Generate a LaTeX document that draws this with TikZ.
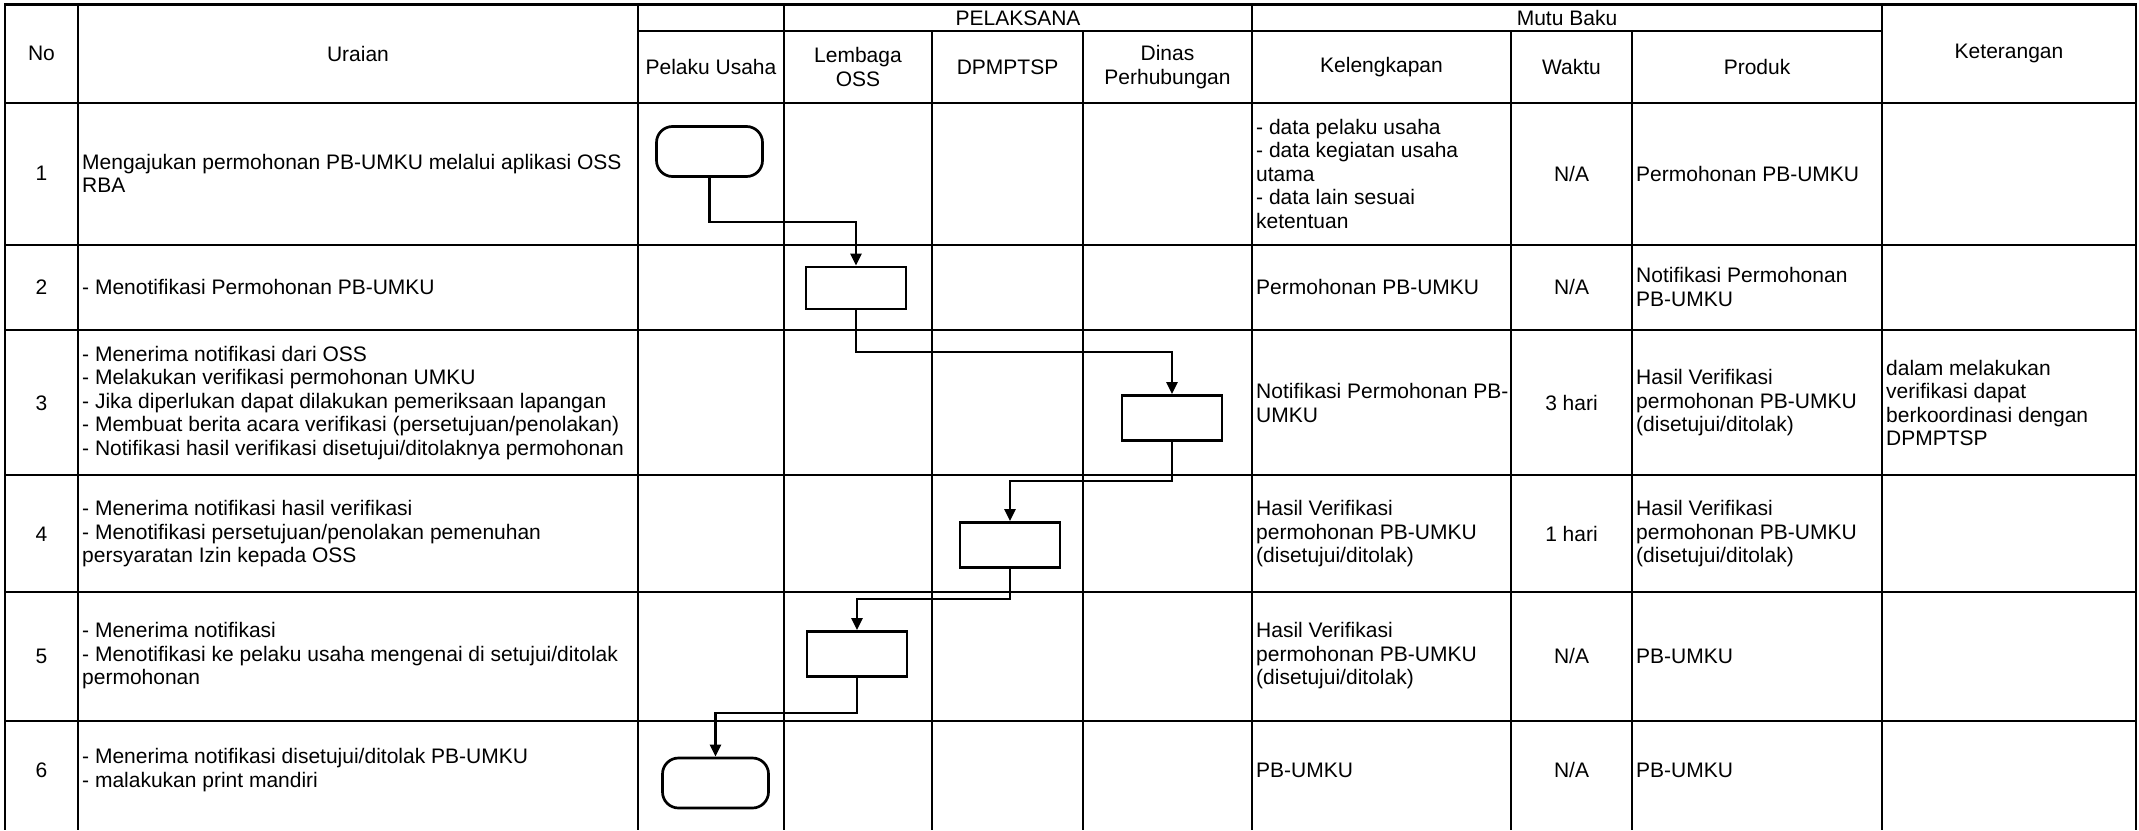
\documentclass[tikz,border=0pt]{standalone}
\usepackage{fontspec}
\setmainfont{Liberation Sans}
\usetikzlibrary{arrows.meta}
\newcommand\tabfont{\fontsize{21}{23.5}\selectfont}
\begin{document}
\begin{tikzpicture}[x=1pt,y=-1pt,
  hline/.style={line width=2.4pt},
  vline/.style={line width=2pt},
  lt/.style={anchor=west, align=left, inner sep=0pt, font=\tabfont},
  ct/.style={align=center, inner sep=0pt, font=\tabfont},
  proc/.style={draw, line width=2.7pt, minimum width=100pt, minimum height=45pt, inner sep=0pt},
  term/.style={draw, line width=2.7pt, rounded corners=16pt, minimum width=106pt, minimum height=50pt, inner sep=0pt},
  conn/.style={line width=2.5pt, -{Triangle[length=12pt,width=11pt]}}]
\useasboundingbox (0,0) rectangle (2139,830);
% horizontal lines
\draw[line width=3pt] (4,4) -- (2137,4);
\draw[hline] (638,31) -- (1882,31);
\foreach \yy in {103,245,330,475,592,721} \draw[hline] (4,\yy) -- (2137,\yy);
% vertical lines
\foreach \xx in {5,78,638,784,1252,1882,2136} \draw[vline] (\xx,4) -- (\xx,830);
\foreach \xx in {932,1083,1511,1632} \draw[vline] (\xx,31) -- (\xx,830);
% header
\node[ct] (hno) at (41.5,53.5) {No};
\node[ct] (hur) at (358,53.5) {Uraian};
\node[ct] (hket) at (2009,53.5) {Keterangan};
\node[ct] (hpel) at (1018,18) {PELAKSANA};
\node[ct] (hmb) at (1567,18) {Mutu Baku};
\node[ct] (hpu) at (711,67) {Pelaku Usaha};
\node[ct] (hoss) at (858,67) {Lembaga\\OSS};
\node[ct] (hdp) at (1007.5,67) {DPMPTSP};
\node[ct] (hdh) at (1167.5,67) {Dinas\\Perhubungan};
\node[ct] (hkel) at (1381.5,67) {Kelengkapan};
\node[ct] (hwak) at (1571.5,67) {Waktu};
\node[ct] (hpro) at (1757,67) {Produk};
% row 1
\node[ct] (n1) at (41.5,173.5) {1};
\node[lt] (u1) at (82,173.5) {Mengajukan permohonan PB-UMKU melalui aplikasi OSS\\RBA};
\node[lt] (k1) at (1256,173.5) {- data pelaku usaha\\- data kegiatan usaha\\utama\\- data lain sesuai\\ketentuan};
\node[ct] (w1) at (1571.5,173.5) {N/A};
\node[lt] (p1) at (1636,173.5) {Permohonan PB-UMKU};
% row 2
\node[ct] (n2) at (41.5,287) {2};
\node[lt] (u2) at (82,287) {- Menotifikasi Permohonan PB-UMKU};
\node[lt] (k2) at (1256,287) {Permohonan PB-UMKU};
\node[ct] (w2) at (1571.5,287) {N/A};
\node[lt] (p2) at (1636,287) {Notifikasi Permohonan\\PB-UMKU};
% row 3
\node[ct] (n3) at (41.5,403) {3};
\node[lt] (u3) at (82,403) {- Menerima notifikasi dari OSS\\- Melakukan verifikasi permohonan UMKU\\- Jika diperlukan dapat dilakukan pemeriksaan lapangan\\- Membuat berita acara verifikasi (persetujuan/penolakan)\\- Notifikasi hasil verifikasi disetujui/ditolaknya permohonan};
\node[lt] (k3) at (1256,403) {Notifikasi Permohonan PB-\\UMKU};
\node[ct] (w3) at (1571.5,403) {3 hari};
\node[lt] (p3) at (1636,403) {Hasil Verifikasi\\permohonan PB-UMKU\\(disetujui/ditolak)};
\node[lt] (ket3) at (1886,403) {dalam melakukan\\verifikasi dapat\\berkoordinasi dengan\\DPMPTSP};
% row 4
\node[ct] (n4) at (41.5,534) {4};
\node[lt] (u4) at (82,534) {- Menerima notifikasi hasil verifikasi\\- Menotifikasi persetujuan/penolakan pemenuhan\\persyaratan Izin kepada OSS};
\node[lt] (k4) at (1256,534) {Hasil Verifikasi\\permohonan PB-UMKU\\(disetujui/ditolak)};
\node[ct] (w4) at (1571.5,534) {1 hari};
\node[lt] (p4) at (1636,534) {Hasil Verifikasi\\permohonan PB-UMKU\\(disetujui/ditolak)};
% row 5
\node[ct] (n5) at (41.5,656) {5};
\node[lt] (u5) at (82,656) {- Menerima notifikasi\\- Menotifikasi ke pelaku usaha mengenai di setujui/ditolak\\permohonan};
\node[lt] (k5) at (1256,656) {Hasil Verifikasi\\permohonan PB-UMKU\\(disetujui/ditolak)};
\node[ct] (w5) at (1571.5,656) {N/A};
\node[lt] (p5) at (1636,656) {PB-UMKU};
% row 6
\node[ct] (n6) at (41.5,770) {6};
\node[lt] (u6) at (82,770) {- Menerima notifikasi disetujui/ditolak PB-UMKU\\- malakukan print mandiri};
\node[lt] (k6) at (1256,770) {PB-UMKU};
\node[ct] (w6) at (1571.5,770) {N/A};
\node[lt] (p6) at (1636,770) {PB-UMKU};
% flow shapes
\node[term] (t1) at (709.5,151.5) {};
\node[proc, minimum height=42pt] (r2) at (856,288) {};
\node[proc] (r3) at (1172,418) {};
\node[proc] (r4) at (1010,545) {};
\node[proc] (r5) at (857,654) {};
\node[term] (t6) at (715.5,783) {};
% connectors
\coordinate (b1) at (709.5,222);
\coordinate (b2) at (856,352);
\coordinate (b3) at (1172,481);
\coordinate (b4) at (1010,599);
\coordinate (b5) at (857,713);
\draw[conn] (t1.south) -- (b1) -| (r2.north);
\draw[conn] (r2.south) -- (b2) -| (r3.north);
\draw[conn] (r3.south) -- (b3) -| (r4.north);
\draw[conn] (r4.south) -- (b4) -| (r5.north);
\draw[conn] (r5.south) -- (b5) -| (t6.north);
\end{tikzpicture}
\end{document}
